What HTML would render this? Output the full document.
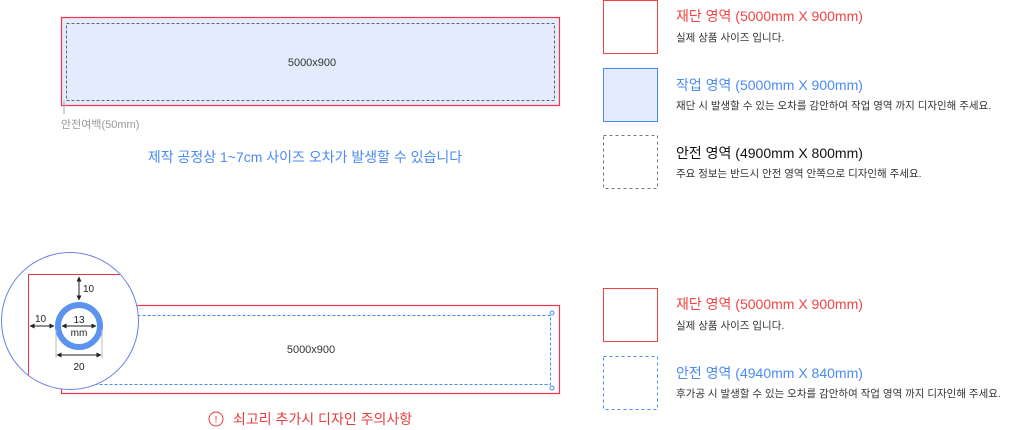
<!DOCTYPE html>
<html><head><meta charset="utf-8"><style>
html,body{margin:0;padding:0;background:#fff;width:1025px;height:430px;overflow:hidden}
svg text{font-family:"Liberation Sans","Noto Sans CJK KR",sans-serif}
</style></head><body>
<svg width="1025" height="430" viewBox="0 0 1025 430" xmlns="http://www.w3.org/2000/svg">
<defs>
<marker id="a" viewBox="0 0 10 10" refX="9" refY="5" markerWidth="5" markerHeight="5" orient="auto-start-reverse"><path d="M0,0L10,5L0,10z" fill="#222"/></marker>
<clipPath id="c"><circle cx="70" cy="321" r="68"/></clipPath>
</defs>
<!-- top diagram -->
<rect x="61" y="17" width="499" height="89" fill="#e3ecfc"/>
<rect x="61.5" y="17.5" width="498" height="88" fill="none" stroke="#f0344a" stroke-width="1.2"/>
<rect x="66.5" y="23.5" width="488" height="77" fill="none" stroke="#666" stroke-dasharray="3,2"/>
<text x="312" y="66" font-size="11" fill="#333" text-anchor="middle">5000x900</text>
<line x1="64" y1="101" x2="64" y2="114" stroke="#aaa"/>
<text x="61" y="128" font-size="11" fill="#999">안전여백(50mm)</text>
<text x="305" y="162" font-size="14" fill="#4a8af4" text-anchor="middle">제작 공정상 1~7cm 사이즈 오차가 발생할 수 있습니다</text>

<!-- bottom diagram -->
<rect x="61.5" y="305.5" width="498" height="88" fill="#fff" stroke="#f0344a" stroke-width="1.2"/>
<rect x="67.5" y="315.5" width="483" height="69" fill="none" stroke="#4a8af4" stroke-dasharray="3,2"/>
<circle cx="552" cy="313" r="2" fill="#fff" stroke="#4a8af4"/>
<circle cx="552" cy="388" r="2" fill="#fff" stroke="#4a8af4"/>
<circle cx="68" cy="386" r="2" fill="#fff" stroke="#4a8af4"/>
<text x="311" y="353" font-size="11" fill="#333" text-anchor="middle">5000x900</text>
<circle cx="216" cy="419" r="7" fill="none" stroke="#e83b3b"/>
<text x="216" y="423" font-size="10" fill="#e83b3b" text-anchor="middle">!</text>
<text x="233" y="424" font-size="14" fill="#e83b3b">쇠고리 추가시 디자인 주의사항</text>

<!-- magnifier -->
<circle cx="70" cy="321" r="68.5" fill="#fff" stroke="#6b7fe0"/>
<g clip-path="url(#c)">
<path d="M28.5,400 V274.5 H140" fill="none" stroke="#f0344a"/>
<line x1="79" y1="277" x2="79" y2="300" stroke="#222" marker-start="url(#a)" marker-end="url(#a)"/>
<text x="83" y="292" font-size="10" fill="#222">10</text>
<line x1="30" y1="326" x2="54" y2="326" stroke="#222" marker-start="url(#a)" marker-end="url(#a)"/>
<text x="35" y="322" font-size="10" fill="#222">10</text>
<circle cx="79" cy="326" r="21" fill="none" stroke="#5b93ee" stroke-width="6"/>
<line x1="62" y1="326" x2="96" y2="326" stroke="#222" marker-start="url(#a)" marker-end="url(#a)"/>
<text x="79" y="323" font-size="10" fill="#222" text-anchor="middle">13</text>
<text x="79" y="336" font-size="10" fill="#222" text-anchor="middle">mm</text>
<line x1="56" y1="330" x2="56" y2="358" stroke="#bbb"/>
<line x1="102" y1="330" x2="102" y2="358" stroke="#bbb"/>
<line x1="57" y1="355" x2="101" y2="355" stroke="#222" marker-start="url(#a)" marker-end="url(#a)"/>
<text x="79" y="370" font-size="10" fill="#222" text-anchor="middle">20</text>
</g>

<!-- legend -->
<rect x="603.5" y="0.5" width="54" height="53" fill="#fff" stroke="#f04444"/>
<text x="676" y="21" font-size="14" fill="#f04444">재단 영역 (5000mm X 900mm)</text>
<text x="676" y="41" font-size="10.5" fill="#333">실제 상품 사이즈 입니다.</text>

<rect x="603.5" y="68.5" width="54" height="53" fill="#e3ecfc" stroke="#4a8af4"/>
<text x="676" y="90" font-size="14" fill="#4a8af4">작업 영역 (5000mm X 900mm)</text>
<text x="676" y="109" font-size="10.5" fill="#333">재단 시 발생할 수 있는 오차를 감안하여 작업 영역 까지 디자인해 주세요.</text>

<rect x="603.5" y="135.5" width="54" height="53" fill="#fff" stroke="#777" stroke-dasharray="3,3"/>
<text x="676" y="158" font-size="14" fill="#111">안전 영역 (4900mm X 800mm)</text>
<text x="676" y="177" font-size="10.5" fill="#333">주요 정보는 반드시 안전 영역 안쪽으로 디자인해 주세요.</text>

<rect x="603.5" y="288.5" width="54" height="53" fill="#fff" stroke="#f04444"/>
<text x="676" y="309" font-size="14" fill="#f04444">재단 영역 (5000mm X 900mm)</text>
<text x="676" y="329" font-size="10.5" fill="#333">실제 상품 사이즈 입니다.</text>

<rect x="603.5" y="356.5" width="54" height="53" fill="#fff" stroke="#4a8af4" stroke-dasharray="3,3"/>
<text x="676" y="378" font-size="14" fill="#4a8af4">안전 영역 (4940mm X 840mm)</text>
<text x="676" y="397" font-size="10.5" fill="#333">후가공 시 발생할 수 있는 오차를 감안하여 작업 영역 까지 디자인해 주세요.</text>
</svg>
</body></html>
